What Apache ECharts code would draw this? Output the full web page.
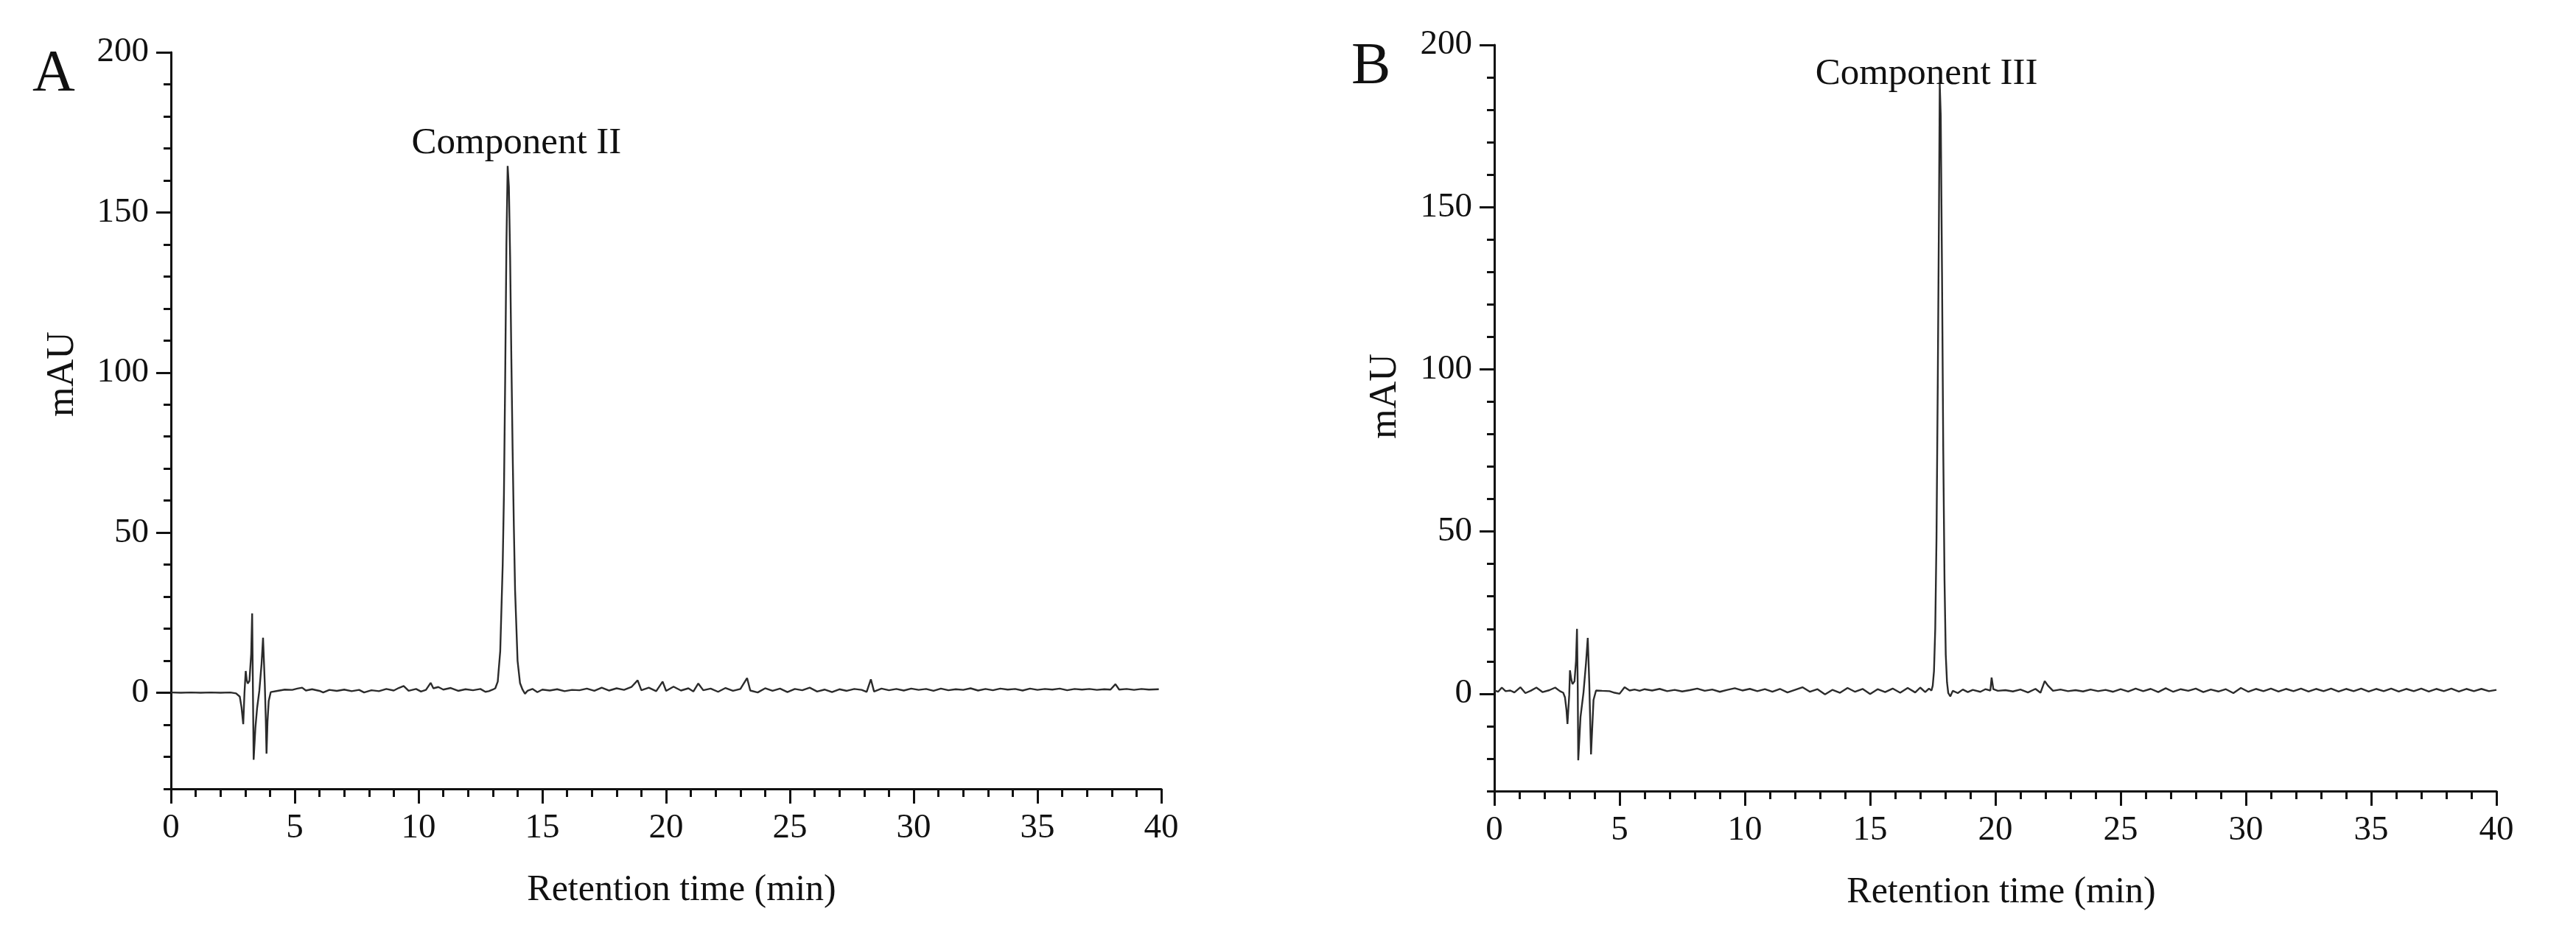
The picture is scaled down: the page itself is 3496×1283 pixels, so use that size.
<!DOCTYPE html>
<html>
<head>
<meta charset="utf-8">
<title>Chromatograms</title>
<script src="https://cdn.jsdelivr.net/npm/echarts@6/dist/echarts.min.js"></script>
<style>
  html, body { margin: 0; padding: 0; background: #fff; }
  #chart { width: 3496px; height: 1283px; }
</style>
</head>
<body>
<div id="chart"></div>
<script>
// retention time (min) / absorbance (mAU)
var timeA = [
  0.0, 0.4, 0.8, 1.2, 1.6, 2.0, 2.4, 2.63, 2.78, 2.85, 2.92, 2.97, 3.02, 3.06, 3.1, 3.17, 3.24, 3.28, 3.31, 3.34,
  3.41, 3.48, 3.57, 3.66, 3.72, 3.76, 3.79, 3.83, 3.86, 3.9, 3.95, 4.03, 4.3, 4.6, 4.9, 5.1, 5.3, 5.45, 5.7, 6.0,
  6.15, 6.4, 6.7, 7.0, 7.3, 7.6, 7.8, 8.1, 8.4, 8.7, 9.0, 9.2, 9.4, 9.6, 9.9, 10.1, 10.3, 10.49, 10.6, 10.8,
  11.0, 11.3, 11.6, 11.9, 12.2, 12.5, 12.7, 12.84, 13.0, 13.1, 13.2, 13.3, 13.4, 13.45, 13.5, 13.55, 13.6, 13.65, 13.7, 13.75,
  13.8, 13.85, 13.9, 14.0, 14.1, 14.2, 14.3, 14.4, 14.6, 14.8, 15.0, 15.3, 15.6, 15.9, 16.2, 16.5, 16.8, 17.1, 17.4, 17.7,
  18.0, 18.3, 18.6, 18.85, 19.0, 19.3, 19.6, 19.86, 20.0, 20.3, 20.6, 20.9, 21.1, 21.3, 21.5, 21.8, 22.1, 22.4, 22.7, 23.0,
  23.27, 23.4, 23.7, 24.0, 24.3, 24.6, 24.9, 25.2, 25.5, 25.8, 26.1, 26.4, 26.7, 27.0, 27.3, 27.6, 27.9, 28.1, 28.27, 28.4,
  28.7, 29.0, 29.3, 29.6, 29.9, 30.2, 30.5, 30.8, 31.1, 31.4, 31.7, 32.0, 32.3, 32.6, 32.9, 33.2, 33.5, 33.8, 34.1, 34.4,
  34.7, 35.0, 35.3, 35.6, 35.9, 36.2, 36.5, 36.8, 37.1, 37.4, 37.7, 37.95, 38.15, 38.3, 38.6, 38.9, 39.2, 39.5, 39.9
]
var signalA = [
  0.1, 0.0, 0.1, 0.0, 0.1, 0.0, 0.1, -0.2, -1.2, -4.5, -9.8, 0.0, 6.8, 4.0, 2.9, 3.7, 12, 24.8, 2, -20.9,
  -11, -4.8, 0.6, 9.0, 17.2, 9, 2.9, -8, -19.0, -9, -2.5, 0.2, 0.6, 1.0, 0.9, 1.3, 1.6, 0.7, 1.1, 0.6,
  0.1, 0.9, 0.6, 1.0, 0.5, 0.9, 0.1, 0.8, 0.5, 1.2, 0.7, 1.5, 2.1, 0.6, 1.2, 0.4, 0.9, 3.1, 1.4, 1.8,
  1.0, 1.5, 0.6, 1.1, 0.8, 1.2, 0.3, 0.5, 1.0, 1.4, 3.5, 13, 40, 62, 98, 140, 164.5, 158, 136, 104,
  76, 52, 32, 10, 3, 1.0, -0.3, 0.6, 1.2, 0.2, 1.0, 0.7, 1.1, 0.5, 0.9, 0.8, 1.3, 0.6, 1.6, 0.7,
  1.4, 0.9, 1.8, 3.9, 0.8, 1.6, 0.5, 3.5, 0.6, 1.9, 0.7, 1.4, 0.4, 2.9, 0.8, 1.3, 0.3, 1.5, 0.6, 1.2,
  4.6, 0.7, 0.1, 1.4, 0.6, 1.3, 0.2, 1.2, 0.8, 1.6, 0.4, 1.0, 0.2, 1.1, 0.6, 1.2, 0.9, 0.3, 4.2, 0.4,
  1.3, 0.8, 1.2, 0.7, 1.3, 0.9, 1.2, 0.6, 1.3, 0.8, 1.1, 0.9, 1.4, 0.7, 1.2, 0.8, 1.3, 1.0, 1.2, 0.7,
  1.3, 0.9, 1.2, 1.0, 1.3, 0.8, 1.2, 1.0, 1.2, 0.9, 1.1, 1.0, 2.7, 1.0, 1.2, 0.9, 1.2, 1.0, 1.1
]

var timeB = [
  0.0, 0.15, 0.3, 0.45, 0.64, 0.8, 1.04, 1.24, 1.45, 1.68, 1.93, 2.2, 2.43, 2.62, 2.75, 2.82, 2.88, 2.92, 2.99, 3.02,
  3.07, 3.12, 3.2, 3.26, 3.3, 3.33, 3.35, 3.44, 3.56, 3.66, 3.73, 3.79, 3.86, 3.96, 4.06, 4.3, 4.6, 4.8, 5.0, 5.2,
  5.4, 5.6, 5.8, 6.0, 6.3, 6.6, 6.9, 7.2, 7.5, 7.8, 8.1, 8.4, 8.7, 9.0, 9.3, 9.6, 9.9, 10.2, 10.5, 10.8,
  11.1, 11.4, 11.7, 12.0, 12.3, 12.6, 12.9, 13.2, 13.5, 13.8, 14.1, 14.4, 14.7, 15.0, 15.3, 15.6, 15.9, 16.2, 16.5, 16.8,
  17.0, 17.2, 17.35, 17.45, 17.5, 17.55, 17.6, 17.65, 17.7, 17.75, 17.78, 17.82, 17.87, 17.92, 17.97, 18.02, 18.07, 18.12, 18.2, 18.3,
  18.5, 18.7, 18.9, 19.1, 19.4, 19.6, 19.8, 19.85, 19.92, 20.1, 20.4, 20.7, 21.0, 21.3, 21.6, 21.8, 21.97, 22.1, 22.3, 22.6,
  22.9, 23.2, 23.5, 23.8, 24.1, 24.4, 24.7, 25.0, 25.3, 25.6, 25.9, 26.2, 26.5, 26.8, 27.1, 27.4, 27.7, 28.0, 28.3, 28.6,
  28.9, 29.2, 29.5, 29.8, 30.1, 30.4, 30.7, 31.0, 31.3, 31.6, 31.9, 32.2, 32.5, 32.8, 33.1, 33.4, 33.7, 34.0, 34.3, 34.6,
  34.9, 35.2, 35.5, 35.8, 36.1, 36.4, 36.7, 37.0, 37.3, 37.6, 37.9, 38.2, 38.5, 38.8, 39.1, 39.4, 39.7, 40.0
]
var signalB = [
  1.0, 0.6, 1.9, 0.8, 1.0, 0.4, 2.0, 0.2, 0.9, 1.9, 0.5, 1.1, 1.9, 0.8, 0.3, -1.1, -5, -9.3, -0.4, 7.2,
  4.5, 3.0, 3.8, 10, 20, 2, -20.5, -7.2, 0.4, 9.5, 17.2, 3.4, -18.7, -1.9, 1.0, 0.9, 0.8, 0.3, 0.0, 2.0,
  1.0, 1.3, 0.9, 1.4, 1.0, 1.5, 0.8, 1.2, 0.7, 1.1, 1.6, 0.9, 1.3, 0.6, 1.2, 1.7, 1.0, 1.5, 0.8, 1.4,
  0.6, 1.5, 0.4, 1.2, 2.0, 0.6, 1.4, -0.2, 1.2, 0.3, 1.8, 0.6, 1.5, -0.1, 1.4, 0.5, 1.6, 0.3, 1.8, 0.4,
  1.9, 0.5, 1.6, 1.0, 2.5, 7, 20, 48, 95, 150, 188, 178, 130, 75, 35, 12, 3.5, 0.2, -0.8, 0.9,
  0.2, 1.3, 0.5, 1.2, 0.6, 1.4, 1.0, 5.0, 1.4, 0.9, 1.1, 0.7, 1.3, 0.4, 1.5, 0.3, 3.9, 2.5, 0.9, 1.3,
  0.8, 1.1, 0.7, 1.3, 0.8, 1.2, 0.6, 1.4, 0.7, 1.6, 0.8, 1.5, 0.5, 1.7, 0.6, 1.4, 0.9, 1.6, 0.5, 1.3,
  0.7, 1.4, 0.2, 1.8, 0.6, 1.5, 0.8, 1.6, 0.7, 1.5, 0.8, 1.6, 0.7, 1.5, 0.8, 1.6, 0.7, 1.5, 0.8, 1.6,
  0.7, 1.5, 0.8, 1.6, 0.7, 1.5, 0.8, 1.6, 0.7, 1.5, 0.8, 1.6, 0.7, 1.5, 0.8, 1.5, 0.8, 1.2
]

var peakNames = ['Component II', 'Component III']
var panelLetters = ['A', 'B']
var yMajorTicks = [0, 50, 100, 150, 200]

var FONT = 'Liberation Serif'
var INK = '#111'

function pairs(xs, ys) {
  return xs.map(function(x, i) {
    return [x, ys[i]]
  })
}

function apex(xs, ys) {
  var k = 0
  ys.forEach(function(v, i) {
    if (v > ys[k]) k = i
  })
  return [xs[k], ys[k]]
}

function xAxisFor(gridIndex, shift) {
  return {
    type: 'value',
    gridIndex: gridIndex,
    min: 0,
    max: 40,
    interval: 5,
    name: 'Retention time (min)',
    nameLocation: 'middle',
    nameGap: 113,
    nameTextStyle: { fontFamily: FONT, fontSize: 50, color: INK, padding: [0, 0, 0, shift] },
    axisLine: { onZero: false, lineStyle: { color: INK, width: 3 } },
    axisTick: { inside: false, length: 20, lineStyle: { color: INK, width: 3 } },
    minorTick: { show: true, splitNumber: 5, length: 11, lineStyle: { color: INK, width: 3 } },
    axisLabel: { fontFamily: FONT, fontSize: 47, color: INK, margin: 30 },
    splitLine: { show: false }
  }
}

// minor ticks every 10 mAU
function yMinorFor(gridIndex) {
  return {
    type: 'value',
    gridIndex: gridIndex,
    position: 'left',
    min: -30,
    max: 200,
    interval: 10,
    axisLine: { show: true, onZero: false, lineStyle: { color: INK, width: 3 } },
    axisTick: { inside: false, length: 10, lineStyle: { color: INK, width: 3 } },
    axisLabel: { show: false },
    splitLine: { show: false }
  }
}

// long ticks and labels at 0, 50, ... 200
function yMajorFor(gridIndex) {
  return {
    type: 'value',
    gridIndex: gridIndex,
    position: 'left',
    min: -30,
    max: 200,
    axisLine: { show: false, onZero: false },
    axisTick: { show: true, inside: false, length: 20, customValues: yMajorTicks, lineStyle: { color: INK, width: 3 } },
    axisLabel: { fontFamily: FONT, fontSize: 47, color: INK, margin: 30, customValues: yMajorTicks },
    splitLine: { show: false }
  }
}

function trace(data, xIdx, yIdx, name, offset, dist) {
  return {
    type: 'line',
    xAxisIndex: xIdx,
    yAxisIndex: yIdx,
    data: data,
    showSymbol: false,
    symbol: 'none',
    lineStyle: { color: '#2b2b2b', width: 2.4 },
    markPoint: {
      symbol: 'circle',
      symbolSize: 0,
      silent: true,
      label: {
        show: true,
        position: 'top',
        distance: dist,
        offset: offset,
        formatter: name,
        fontFamily: FONT,
        fontSize: 51,
        color: INK
      },
      data: [{ coord: apex(data.map(function(p) { return p[0] }), data.map(function(p) { return p[1] })) }]
    }
  }
}

var chart = echarts.init(document.getElementById('chart'))

chart.setOption({
  animation: false,
  backgroundColor: '#fff',
  grid: [
    { left: 232, right: 1920, top: 71, bottom: 212 },
    { left: 2028, right: 108, top: 61, bottom: 209 }
  ],
  xAxis: [xAxisFor(0, 42), xAxisFor(1, 16)],
  yAxis: [yMinorFor(0), yMajorFor(0), yMinorFor(1), yMajorFor(1)],
  series: [
    trace(pairs(timeA, signalA), 0, 0, peakNames[0], [12, 0], 5),
    trace(pairs(timeB, signalB), 1, 2, peakNames[1], [-18, 0], -12)
  ],
  graphic: [
    { type: 'text', left: 44, top: 62, style: { text: panelLetters[0], font: '80px "' + FONT + '"', fill: INK } },
    { type: 'text', left: 1834, top: 52, style: { text: panelLetters[1], font: '80px "' + FONT + '"', fill: INK } },
    {
      type: 'text', x: 85, y: 508, rotation: Math.PI / 2,
      style: { text: 'mAU', font: '52px "' + FONT + '"', fill: INK, align: 'center', verticalAlign: 'middle' }
    },
    {
      type: 'text', x: 1880, y: 538, rotation: Math.PI / 2,
      style: { text: 'mAU', font: '52px "' + FONT + '"', fill: INK, align: 'center', verticalAlign: 'middle' }
    }
  ]
})
</script>
</body>
</html>
